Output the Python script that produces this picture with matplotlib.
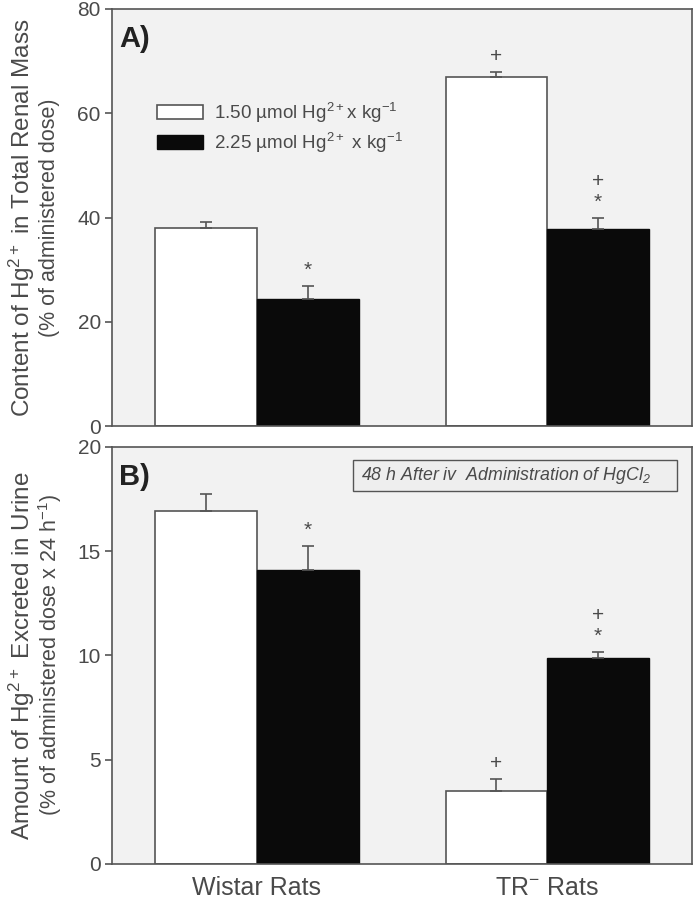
import numpy as np
import matplotlib
matplotlib.use("Agg")
import matplotlib.pyplot as plt
from matplotlib.patches import Patch, Rectangle

plt.rcParams['font.family'] = ['Liberation Sans', 'DejaVu Sans']
plt.rcParams['mathtext.default'] = 'regular'

groups = ["Wistar Rats", "TR$^{-}$ Rats"]
doses = ["1.50 µmol Hg$^{2+}$x kg$^{-1}$", "2.25 µmol Hg$^{2+}$ x kg$^{-1}$"]

# panel A: renal content (% of administered dose)
renal_low = [38.0, 67.0]
renal_low_err = [1.2, 0.9]
renal_high = [24.4, 37.8]
renal_high_err = [2.5, 2.1]
renal_low_marks = ["", "+"]
renal_high_marks = ["*", "*\n+"]

# panel B: urinary excretion (% of administered dose x 24 h-1)
urine_low = [16.9, 3.5]
urine_low_err = [0.85, 0.56]
urine_high = [14.1, 9.85]
urine_high_err = [1.15, 0.33]
urine_low_marks = ["", "+"]
urine_high_marks = ["*", "*\n+"]

txt = "#4a4a4a"
edge = "#555555"
bg = "#f2f2f2"
x = np.arange(1, len(groups) + 1)
w = 0.35

fig = plt.figure(figsize=(6.95, 8.99), dpi=100)
axA = fig.add_axes([0.161, 0.526, 0.835, 0.464])
axB = fig.add_axes([0.161, 0.039, 0.835, 0.464])


def draw_panel(ax, low, low_err, high, high_err, low_marks, high_marks, ymax, step):
    ax.set_facecolor(bg)
    ax.bar(x - w / 2, low, w, color="white", edgecolor=edge, linewidth=1.2, zorder=2)
    ax.bar(x + w / 2, high, w, color="#0a0a0a", edgecolor="#0a0a0a", linewidth=1.0, zorder=2)
    ax.errorbar(x - w / 2, low, yerr=[np.zeros(len(low)), low_err], fmt="none",
                ecolor=edge, elinewidth=1.2, capsize=4.5, capthick=1.2, zorder=3)
    ax.errorbar(x + w / 2, high, yerr=[np.zeros(len(high)), high_err], fmt="none",
                ecolor=edge, elinewidth=1.2, capsize=4.5, capthick=1.2, zorder=3)
    for xs, vals, errs, marks in [(x - w / 2, low, low_err, low_marks),
                                  (x + w / 2, high, high_err, high_marks)]:
        for xi, v, e, m in zip(xs, vals, errs, marks):
            if not m:
                continue
            lines = m.split("\n")
            for k, s in enumerate(lines):
                ax.annotate(s, (xi, v + e), xytext=(0, 11 + 15 * k),
                            textcoords="offset points", ha="center", va="center",
                            fontsize=15, color=txt)
    ax.set_xlim(0.5, 2.5)
    ax.set_ylim(0, ymax)
    ax.set_yticks(np.arange(0, ymax + 0.1, step))
    ax.tick_params(axis="y", direction="out", length=5, width=1.2, colors=edge,
                   labelcolor=txt, labelsize=15, pad=3)
    ax.tick_params(axis="x", length=0, labelcolor=txt, labelsize=18, pad=9)
    for sp in ax.spines.values():
        sp.set_color(edge)
        sp.set_linewidth(1.2)


def ylabels(ax, main, sub):
    ax.text(-0.155, 0.5, main, transform=ax.transAxes, rotation=90,
            ha="center", va="center", fontsize=17.5, color=txt)
    ax.text(-0.107, 0.5, sub, transform=ax.transAxes, rotation=90,
            ha="center", va="center", fontsize=15.5, color=txt)


draw_panel(axA, renal_low, renal_low_err, renal_high, renal_high_err,
           renal_low_marks, renal_high_marks, 80, 20)
axA.set_xticks([])
ylabels(axA, "Content of Hg$^{2+}$ in Total Renal Mass", "(% of administered dose)")
axA.text(0.013, 0.962, "A)", transform=axA.transAxes, fontsize=21, fontweight="bold",
         color="#222222", va="top")
handles = [Patch(facecolor="white", edgecolor=edge, linewidth=1.2),
           Patch(facecolor="#0a0a0a", edgecolor="#0a0a0a")]
axA.legend(handles, doses, loc="upper left", bbox_to_anchor=(0.078, 0.78), frameon=False,
           borderpad=0, borderaxespad=0, fontsize=13.5, handlelength=2.45, handleheight=0.75,
           handletextpad=0.6, labelspacing=0.3, labelcolor=txt)

draw_panel(axB, urine_low, urine_low_err, urine_high, urine_high_err,
           urine_low_marks, urine_high_marks, 20, 5)
axB.set_xticks(x)
axB.set_xticklabels(groups)
ylabels(axB, "Amount of Hg$^{2+}$ Excreted in Urine", "(% of administered dose x 24 h$^{-1}$)")
axB.text(0.013, 0.962, "B)", transform=axB.transAxes, fontsize=21, fontweight="bold",
         color="#222222", va="top")
axB.add_patch(Rectangle((0.4155, 0.894), 0.5585, 0.075, transform=axB.transAxes,
                        facecolor="#eeeeee", edgecolor=edge, linewidth=1.0, zorder=4))
axB.text(0.429, 0.932, "48 h After iv  Administration of HgCl$_2$", transform=axB.transAxes,
         fontsize=12.8, style="italic", color=txt, ha="left", va="center", zorder=5)

fig.savefig("out.png", dpi=100)
